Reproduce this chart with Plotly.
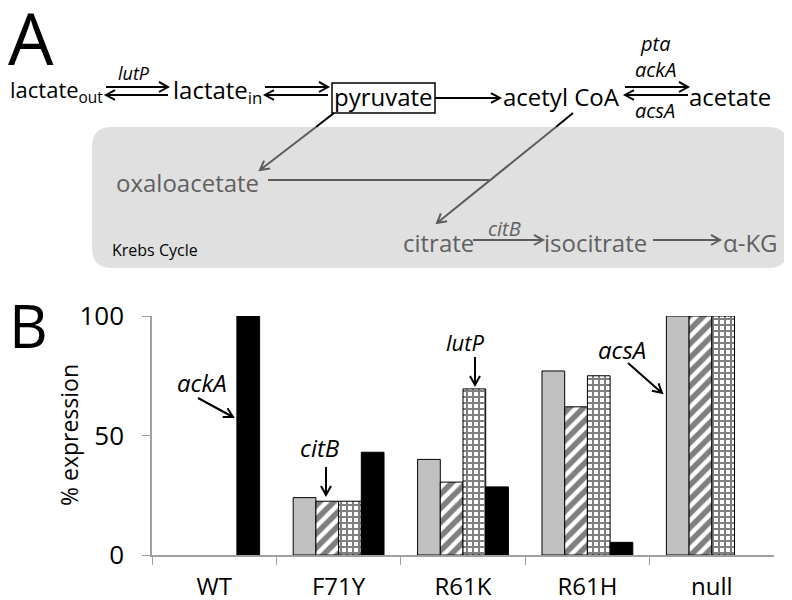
import math
import plotly.graph_objects as go

# 데이터 (% expression)
strains = ['WT', 'F71Y', 'R61K', 'R61H', 'null']
gene_gray = [None, 24, 40, 77, 100]
gene_hatch = [None, 22.5, 30.5, 62, 100]
gene_grid = [None, 22.5, 69.5, 75, 100]
gene_black = [100, 43, 28.5, 5.3, None]
y_ticks = [0, 50, 100]

W, H = 792, 600
OFF = 8  # 페이지 body 여백 보정
FONT = 'Open Sans'
GRAY_TXT = '#606060'
GRAY_LN = '#5c5c5c'


def px(x):
    return (x - OFF) / W


def py(y):
    return 1 - (y - OFF) / H


def path_from(points):
    """픽셀 좌표 점 목록 -> paper 좌표 path"""
    out = []
    for cmd, pts in points:
        s = cmd
        s += ' '.join(f'{px(x):.5f},{py(y):.5f}' for x, y in pts)
        out.append(s)
    return ' '.join(out)


def arrow(x0, y0, x1, y1, color='black', width=2, head=9, spread=5, tip=True):
    dx, dy = x1 - x0, y1 - y0
    L = math.hypot(dx, dy)
    ux, uy = dx / L, dy / L
    nx, ny = -uy, ux
    pts = [('M', [(x0, y0)]), ('L', [(x1, y1)])]
    if tip:
        a = (x1 - head * ux + spread * nx, y1 - head * uy + spread * ny)
        b = (x1 - head * ux - spread * nx, y1 - head * uy - spread * ny)
        pts += [('M', [a]), ('L', [(x1, y1)]), ('L', [b])]
    return dict(type='path', xref='paper', yref='paper', path=path_from(pts),
                line=dict(color=color, width=width))


def text(s, x, y, size=24, color='black', xanchor='center', italic=False, angle=0):
    if italic:
        s = f'<i>{s}</i>'
    return dict(text=s, x=px(x), y=py(y), xref='paper', yref='paper', showarrow=False,
                xanchor=xanchor, yanchor='middle', textangle=angle,
                font=dict(family=FONT, size=size, color=color))


fig = go.Figure()

bar_line = dict(color='black', width=1)
fig.add_trace(go.Bar(x=strains, y=gene_gray, marker=dict(color='#c0c0c0', line=bar_line)))
fig.add_trace(go.Bar(x=strains, y=gene_hatch,
                     marker=dict(color='white', line=bar_line,
                                 pattern=dict(shape='/', fgcolor='black', bgcolor='white',
                                              size=10, solidity=0.55, fillmode='overlay'))))
fig.add_trace(go.Bar(x=strains, y=gene_grid,
                     marker=dict(color='white', line=bar_line,
                                 pattern=dict(shape='+', fgcolor='black', bgcolor='white',
                                              size=6, solidity=0.55, fillmode='overlay'))))
fig.add_trace(go.Bar(x=strains, y=gene_black, marker=dict(color='black', line=bar_line)))

shapes = []
# Krebs cycle 회색 박스 (둥근 모서리)
x0, y0, x1, y1, r = 92, 127, 788, 268, 20
rr = [('M', [(x0 + r, y0)]), ('L', [(x1 - r, y0)]), ('Q', [(x1, y0), (x1, y0 + r)]),
      ('L', [(x1, y1 - r)]), ('Q', [(x1, y1), (x1 - r, y1)]), ('L', [(x0 + r, y1)]),
      ('Q', [(x0, y1), (x0, y1 - r)]), ('L', [(x0, y0 + r)]), ('Q', [(x0, y0), (x0 + r, y0)]), ('Z', [])]
shapes.append(dict(type='path', xref='paper', yref='paper', path=path_from(rr),
                   fillcolor='#e0e0e0', line=dict(width=0), layer='below'))

# 반응 화살표 (양방향)
for xa, xb in [(106, 168), (265, 328), (625, 688)]:
    shapes.append(arrow(xa, 87, xb, 87))
    shapes.append(arrow(xb, 95, xa, 95))
shapes.append(arrow(435, 98, 500, 98))
# pyruvate 박스
shapes.append(dict(type='rect', xref='paper', yref='paper', x0=px(332), x1=px(435),
                   y0=py(113), y1=py(83), line=dict(color='black', width=1.5)))
# 박스 안쪽으로 들어가는 화살표
shapes.append(arrow(334, 113, 316, 127, tip=False))
shapes.append(arrow(316, 127, 260, 170, color=GRAY_LN))
shapes.append(arrow(573, 113, 556, 127, tip=False))
shapes.append(arrow(556, 127, 437, 223, color=GRAY_LN))
shapes.append(arrow(268, 180, 489, 180, color=GRAY_LN, tip=False))
shapes.append(arrow(473, 240, 543, 240, color=GRAY_LN))
shapes.append(arrow(653, 240, 720, 240, color=GRAY_LN))

# B 패널 화살표
shapes.append(arrow(198, 398, 233, 417))
shapes.append(arrow(326, 467, 326, 495))
shapes.append(arrow(475, 357, 475, 385))
shapes.append(arrow(628, 363, 662, 393))

annotations = [
    text('A', 31, 37, size=72),
    text('lactate<sub>out</sub>', 8, 91, size=22, xanchor='left'),
    text('lutP', 134, 73, size=18, italic=True),
    text('lactate<sub>in</sub>', 171, 91, xanchor='left'),
    text('pyruvate', 383, 97),
    text('acetyl CoA', 501, 97, xanchor='left'),
    text('acetate', 687, 97, xanchor='left'),
    text('pta', 655, 43, size=20, italic=True),
    text('ackA', 655, 70, size=20, italic=True),
    text('acsA', 655, 110, size=20, italic=True),
    text('oxaloacetate', 114, 182, color=GRAY_TXT, xanchor='left'),
    text('citrate', 401, 243, color=GRAY_TXT, xanchor='left'),
    text('citB', 505, 228, size=20, color=GRAY_TXT, italic=True),
    text('isocitrate', 542, 243, color=GRAY_TXT, xanchor='left'),
    text('α-KG', 721, 243, color=GRAY_TXT, xanchor='left'),
    text('Krebs Cycle', 110, 250, size=16, xanchor='left'),
    text('B', 28, 325, size=60),
    text('% expression', 69, 435, size=23, angle=-90),
    text('ackA', 202, 382, italic=True),
    text('citB', 320, 447, italic=True),
    text('lutP', 465, 342, size=22, italic=True),
    text('acsA', 622, 350, italic=True),
]

fig.update_layout(
    width=W, height=H,
    margin=dict(l=0, r=0, t=0, b=0, pad=0, autoexpand=False),
    paper_bgcolor='white', plot_bgcolor='white',
    barmode='group', bargap=0.27, bargroupgap=0,
    showlegend=False,
    shapes=shapes,
    annotations=annotations,
    font=dict(family=FONT, color='black'),
)
fig.update_xaxes(domain=[px(152), px(774)], range=[-0.5, 4.5], automargin=False,
                 showline=True, linecolor='#a0a0a0', linewidth=1.5,
                 ticks='outside', tickson='boundaries', ticklen=8, tickcolor='#a0a0a0',
                 tickfont=dict(size=24), ticklabelstandoff=9, showgrid=False)
fig.update_yaxes(domain=[py(555), py(316)], range=[0, 100], tickvals=y_ticks, automargin=False,
                 showline=True, linecolor='#a0a0a0', linewidth=1.5,
                 ticks='outside', ticklen=8, tickcolor='#a0a0a0',
                 tickfont=dict(size=26), ticklabelstandoff=13,
                 showgrid=False, zeroline=False)

fig.write_html('out.html')
